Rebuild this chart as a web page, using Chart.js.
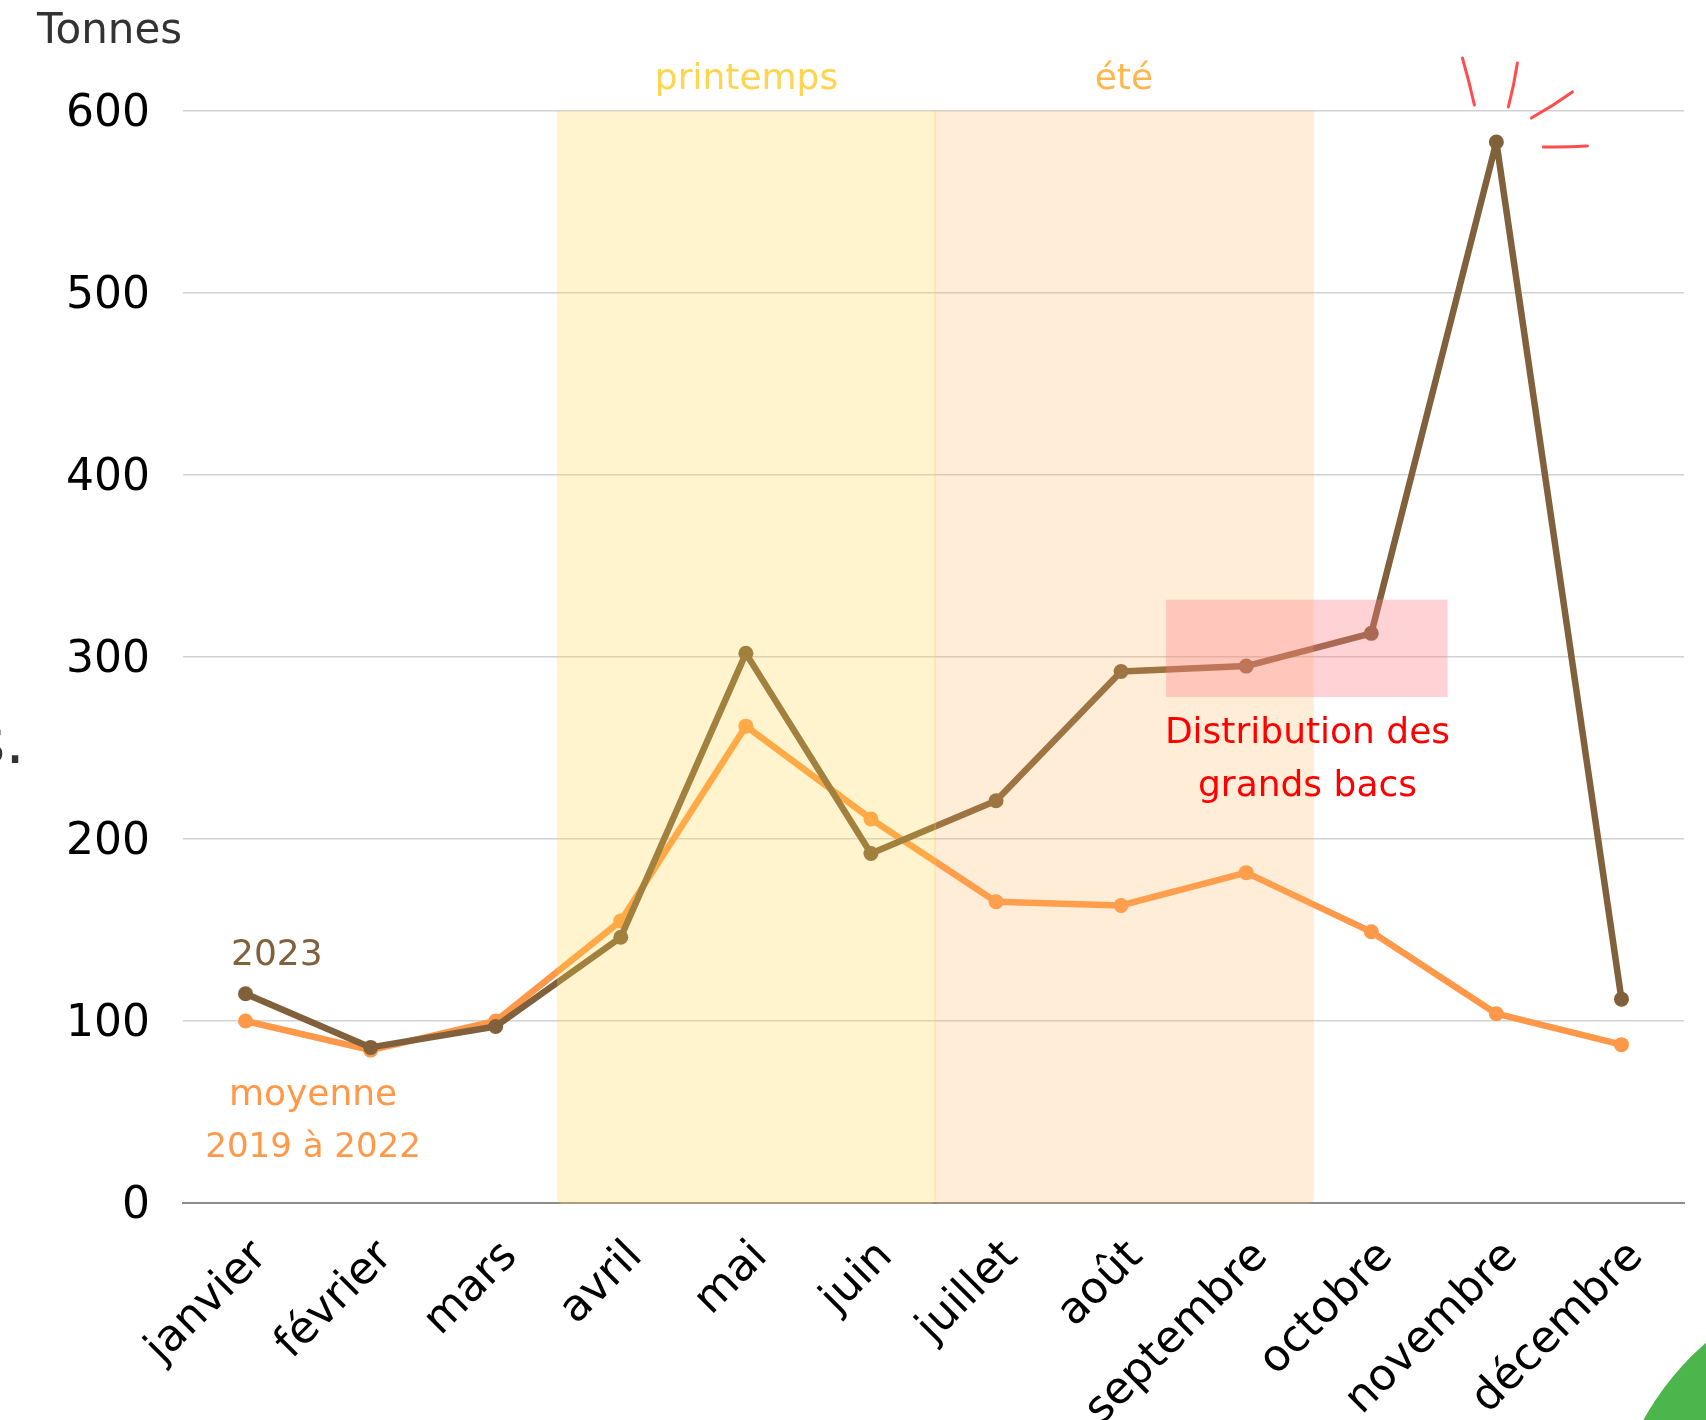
<!DOCTYPE html>
<html><head><meta charset="utf-8">
<script src="https://cdn.jsdelivr.net/npm/chart.js@4.4.1/dist/chart.umd.min.js"></script>
<style>html,body{margin:0;padding:0;background:#fff;overflow:hidden}canvas{display:block}</style>
</head><body>
<canvas id="c" width="1706" height="1420"></canvas>
<script>
// ---- data ----
const months = ['janvier','février','mars','avril','mai','juin','juillet','août','septembre','octobre','novembre','décembre'];
const tonnes2023 = [115, 85.5, 97, 146, 302, 192, 221, 292, 295, 313, 583, 112];
const moyenne2019a2022 = [100, 84, 100, 155, 262, 211, 165.5, 163.5, 181.5, 149, 104, 87];
const yTickValues = [0, 100, 200, 300, 400, 500, 600];
const seasonLabels = ['printemps', 'été'];
const seasonStart = [2.49, 5.52];
const seasonEnd = [5.52, 8.54];
const highlightX = [7.36, 9.61];
const highlightY = [278, 331.5];

const FONT = "'DejaVu Sans', sans-serif";

const overlay = {
  id: 'overlay',
  afterDraw(chart) {
    const {ctx, scales: {x, y}} = chart;
    ctx.save();
    const top = y.getPixelForValue(600);
    const bottom = y.getPixelForValue(0) + 1;
    const seasonFill = ['rgba(255,215,70,0.27)', 'rgba(255,180,90,0.24)'];
    const seasonText = ['#FFD54F', '#FFB74D'];
    seasonLabels.forEach((lab, i) => {
      const x0 = x.getPixelForValue(seasonStart[i]) - (i ? 2 : 0);
      const x1 = x.getPixelForValue(seasonEnd[i]);
      ctx.fillStyle = seasonFill[i];
      ctx.beginPath();
      ctx.roundRect(x0, top, x1 - x0, bottom - top, [0, 0, 6, 6]);
      ctx.fill();
      ctx.fillStyle = seasonText[i];
      ctx.font = '36px ' + FONT;
      ctx.textAlign = 'center';
      ctx.textBaseline = 'middle';
      ctx.fillText(lab, (x0 + x1) / 2, y.getPixelForValue(617));
    });
    // highlight box
    const bx0 = x.getPixelForValue(highlightX[0]), bx1 = x.getPixelForValue(highlightX[1]);
    const by0 = y.getPixelForValue(highlightY[1]), by1 = y.getPixelForValue(highlightY[0]);
    ctx.fillStyle = 'rgba(255,120,130,0.33)';
    ctx.fillRect(bx0, by0, bx1 - bx0, by1 - by0);

    ctx.textAlign = 'center';
    ctx.textBaseline = 'middle';
    ctx.font = '36px ' + FONT;
    ctx.fillStyle = '#FF0000';
    ctx.fillText('Distribution des', x.getPixelForValue(8.49), y.getPixelForValue(258));
    ctx.fillText('grands bacs', x.getPixelForValue(8.49), y.getPixelForValue(229));
    ctx.fillStyle = '#80613C';
    ctx.fillText('2023', x.getPixelForValue(0.25), y.getPixelForValue(136));
    ctx.fillStyle = '#FF9848';
    ctx.fillText('moyenne', x.getPixelForValue(0.54), y.getPixelForValue(59));
    ctx.font = '34px ' + FONT;
    ctx.fillText('2019 à 2022', x.getPixelForValue(0.54), y.getPixelForValue(30));

    // axis title
    ctx.textAlign = 'left';
    ctx.textBaseline = 'alphabetic';
    ctx.fillStyle = '#333333';
    ctx.font = '42px ' + FONT;
    ctx.fillText('Tonnes', 37, 43);
    // cut-off text at left edge
    ctx.textAlign = 'right';
    ctx.font = '62px ' + FONT;
    ctx.fillText('s.', 25, 763);

    // sparkles near November peak
    const p = chart.getDatasetMeta(0).data[10];
    const segs = [[-34,-84,-22,-37],[21,-79,12,-35],[76,-50,35,-24],[47,5,91,4]];
    ctx.strokeStyle = '#FF4D4D';
    ctx.lineWidth = 3;
    ctx.lineCap = 'round';
    segs.forEach(s => {
      ctx.beginPath();
      ctx.moveTo(p.x + s[0], p.y + s[1]);
      ctx.quadraticCurveTo(p.x + (s[0] + s[2]) / 2 + 1, p.y + (s[1] + s[3]) / 2 + 1, p.x + s[2], p.y + s[3]);
      ctx.stroke();
    });

    // green decoration bottom-right
    ctx.fillStyle = '#4CB54C';
    ctx.beginPath();
    ctx.arc(1895, 1560, 288, 0, Math.PI * 2);
    ctx.fill();
    ctx.restore();
  }
};

new Chart(document.getElementById('c'), {
  type: 'line',
  data: {
    labels: months,
    datasets: [
      {
        label: '2023',
        data: tonnes2023,
        borderColor: '#80613C',
        backgroundColor: '#80613C',
        borderWidth: 6.5,
        borderJoinStyle: 'round',
        pointRadius: 7.5,
        pointBorderWidth: 0,
        tension: 0
      },
      {
        label: 'moyenne 2019 à 2022',
        data: moyenne2019a2022,
        borderColor: '#FF9848',
        backgroundColor: '#FF9848',
        borderWidth: 6.5,
        borderJoinStyle: 'round',
        pointRadius: 7.5,
        pointBorderWidth: 0,
        tension: 0
      }
    ]
  },
  options: {
    responsive: false,
    animation: false,
    layout: {padding: {top: 111, right: 22, left: 0, bottom: 0}},
    plugins: {legend: {display: false}, tooltip: {enabled: false}},
    scales: {
      x: {
        offset: true,
        grid: {display: false, drawTicks: false},
        border: {display: true, color: '#8C8C8C', width: 2},
        ticks: {color: '#000', font: {family: FONT, size: 44}, minRotation: 45, maxRotation: 45, padding: 28, labelOffset: 15, autoSkip: false},
        afterFit(s) { s.height = 217; }
      },
      y: {
        min: 0, max: 600,
        afterBuildTicks(s) { s.ticks = yTickValues.map(v => ({value: v})); },
        grid: {color: '#D2D2D2', lineWidth: 1.5, drawTicks: false},
        border: {display: false},
        ticks: {color: '#000', font: {family: FONT, size: 44}, padding: 33, labelOffset: 4},
        afterFit(s) { s.width = 183; }
      }
    }
  },
  plugins: [overlay]
});
</script>
</body></html>
